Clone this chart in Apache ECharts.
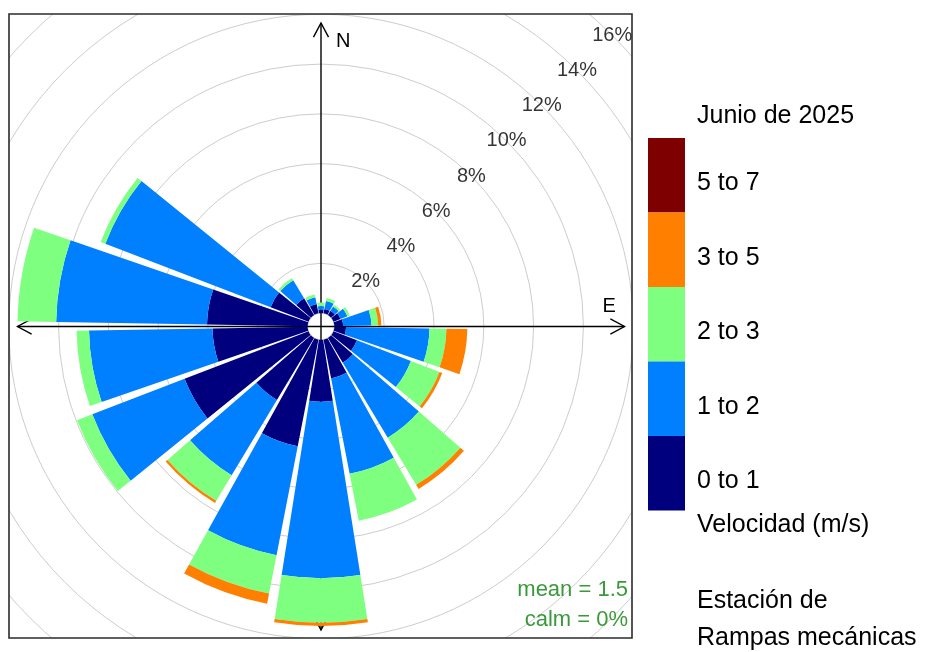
<!DOCTYPE html>
<html>
<head>
<meta charset="utf-8">
<script src="https://cdn.jsdelivr.net/npm/echarts@6/dist/echarts.min.js"></script>
<style>
html,body{margin:0;padding:0;background:#ffffff;}
#chart{width:929px;height:652px;}
</style>
</head>
<body>
<div id="chart"></div>
<script>
// ---------- data ----------
const directions = ['0','20','40','60','80','100','120','140','160','180','200','220','240','260','280','300','320','340'];
const speedBins = ['0 to 1','1 to 2','2 to 3','3 to 5','5 to 7'];
const binColors = ['#00007F','#007FFF','#7FFF7F','#FF7F00','#7F0000'];
const freq0to1 = [0.13,0.18,0.20,0.30,0.35,0.47,1.01,1.16,1.59,2.48,4.36,2.90,5.33,3.82,4.04,1.63,0.78,0.38];
const freq1to2 = [0.16,0.33,0.20,0.30,1.14,3.35,2.32,3.51,3.90,7.09,4.46,3.53,3.97,4.96,6.06,7.11,0.85,0.28];
const freq2to3 = [0.14,0.12,0.08,0.10,0.27,0.68,1.23,2.21,1.92,1.79,1.57,1.20,0.66,0.50,1.55,0.20,0.10,0.11];
const freq3to5 = [0,0,0,0,0.13,0.84,0.12,0.19,0,0.13,0.41,0.10,0,0,0,0,0,0];
const freq5to7 = [0,0,0,0,0,0,0,0,0,0,0,0,0,0,0,0,0,0];
const pctTicks = [2,4,6,8,10,12,14,16];
const titleText = 'Junio de 2025';
const unitText = 'Velocidad (m/s)';
const stationLines = ['Estación de','Rampas mecánicas'];
const meanSpeed = 1.5;
const calmPct = 0;

// ---------- layout ----------
const CENTER = [321, 326.5];
const RADIUS = [13.4, 411.8];
const BOX = {x: 9, y: 14, w: 623, h: 624};
const FONT = '"Liberation Sans", Arial, sans-serif';

const binSeries = [freq0to1, freq1to2, freq2to3, freq3to5, freq5to7];
const series = binSeries.map((arr, i) => ({
  name: speedBins[i],
  type: 'bar',
  coordinateSystem: 'polar',
  polarIndex: 0,
  stack: 'rose',
  barCategoryGap: '10%',
  itemStyle: {color: binColors[i]},
  data: arr,
  z: 2
}));
series.push({
  type: 'scatter',
  coordinateSystem: 'polar',
  polarIndex: 1,
  symbolSize: 0,
  silent: true,
  data: pctTicks.map(v => [v, 45]),
  label: {
    show: true, position: 'inside',
    formatter: p => p.value[0] + '%',
    fontSize: 20, color: '#000', fontFamily: FONT
  },
  z: 3
});

const hidden = {axisLine:{show:false}, axisTick:{show:false}, axisLabel:{show:false}, splitLine:{show:false}};

const chart = echarts.init(document.getElementById('chart'), null, {renderer: 'canvas'});
chart.setOption({
  animation: false,
  backgroundColor: '#ffffff',
  polar: [
    {center: CENTER, radius: RADIUS},
    {center: CENTER, radius: RADIUS}
  ],
  angleAxis: [
    Object.assign({polarIndex: 0, type: 'category', data: directions, startAngle: 100, clockwise: true, boundaryGap: true}, hidden, {splitArea:{show:false}}),
    Object.assign({polarIndex: 1, type: 'value', min: 0, max: 360, startAngle: 90, clockwise: true}, hidden)
  ],
  radiusAxis: [
    {polarIndex: 0, type: 'value', min: 0, max: 16, interval: 2,
     axisLine:{show:false}, axisTick:{show:false}, axisLabel:{show:false},
     splitLine:{show:true, showMinLine:false, lineStyle:{color:'#cdcdcd', width:1}}},
    Object.assign({polarIndex: 1, type: 'value', min: 0, max: 16, interval: 2}, hidden)
  ],
  legend: {
    orient: 'vertical', left: 648, top: 138, padding: 0,
    itemWidth: 37, itemHeight: 74.5, itemGap: 0,
    icon: 'rect', selectedMode: false,
    data: speedBins.slice().reverse(),
    formatter: name => '{t|' + name + '}',
    textStyle: {
      fontSize: 25, color: '#000', fontFamily: FONT, padding: [0, 0, 0, 7],
      rich: {t: {fontSize: 25, color: '#000', fontFamily: FONT, padding: [16, 0, 0, 0]}}
    },
    itemStyle: {borderWidth: 0},
    z: 60
  },
  series: series
});

// axis arrows through the centre, to the longest total frequency
const totals = directions.map((d, k) => binSeries.reduce((s, a) => s + a[k], 0));
const maxTotal = Math.max.apply(null, totals);
const scatterIdx = series.length - 1;
const tips = [0, 90, 180, 270].map(a => chart.convertToPixel({seriesIndex: scatterIdx}, [maxTotal, a]));
const c0 = [(tips[0][0] + tips[2][0]) / 2, (tips[1][1] + tips[3][1]) / 2];

function chevron(tip) {
  const dx = tip[0] - c0[0], dy = tip[1] - c0[1];
  const len = Math.sqrt(dx*dx + dy*dy);
  const ux = dx/len, uy = dy/len;
  const L = 16, ang = 28 * Math.PI/180;
  const rot = (s) => {
    const cs = Math.cos(s*ang), sn = Math.sin(s*ang);
    const rx = ux*cs - uy*sn, ry = ux*sn + uy*cs;
    return [tip[0] - L*rx, tip[1] - L*ry];
  };
  return {type:'polyline', z: 1, silent: true,
    shape:{points:[rot(1), tip, rot(-1)]},
    style:{stroke:'#000', lineWidth:1.4, fill:null}};
}

const graphics = [
  {type:'line', z:1, silent:true, shape:{x1:tips[3][0], y1:tips[3][1], x2:tips[1][0], y2:tips[1][1]}, style:{stroke:'#000', lineWidth:1.4}},
  {type:'line', z:1, silent:true, shape:{x1:tips[0][0], y1:tips[0][1], x2:tips[2][0], y2:tips[2][1]}, style:{stroke:'#000', lineWidth:1.4}},
  chevron(tips[0]), chevron(tips[1]), chevron(tips[2]), chevron(tips[3]),
  // masks outside the plot box
  {type:'rect', z:50, silent:true, shape:{x:0, y:0, width:BOX.x, height:652}, style:{fill:'#fff'}},
  {type:'rect', z:50, silent:true, shape:{x:0, y:0, width:929, height:BOX.y}, style:{fill:'#fff'}},
  {type:'rect', z:50, silent:true, shape:{x:0, y:BOX.y+BOX.h, width:929, height:652}, style:{fill:'#fff'}},
  {type:'rect', z:50, silent:true, shape:{x:BOX.x+BOX.w, y:0, width:929, height:652}, style:{fill:'#fff'}},
  {type:'rect', z:51, silent:true, shape:{x:BOX.x, y:BOX.y, width:BOX.w, height:BOX.h}, style:{fill:null, stroke:'#2b2b2b', lineWidth:1.6}},
  // compass letters
  {type:'text', z:52, silent:true, x: tips[0][0] + 15, y: tips[0][1] + 18,
   style:{text:'N', font:'20px ' + FONT, fill:'#000', textAlign:'left', textVerticalAlign:'middle'}},
  {type:'text', z:52, silent:true, x: tips[1][0] - 22, y: tips[1][1] - 20,
   style:{text:'E', font:'20px ' + FONT, fill:'#000', textAlign:'left', textVerticalAlign:'middle'}},
  // stats
  {type:'text', z:52, silent:true, x: 628, y: 590,
   style:{text:'mean = ' + meanSpeed, font:'22px ' + FONT, fill:'#3a9a3a', textAlign:'right', textVerticalAlign:'middle'}},
  {type:'text', z:52, silent:true, x: 628, y: 620,
   style:{text:'calm = ' + calmPct + '%', font:'22px ' + FONT, fill:'#3a9a3a', textAlign:'right', textVerticalAlign:'middle'}},
  // legend annotations
  {type:'text', z:61, silent:true, x: 697, y: 116,
   style:{text:titleText, font:'25px ' + FONT, fill:'#000', textAlign:'left', textVerticalAlign:'middle'}},
  {type:'text', z:61, silent:true, x: 697, y: 525,
   style:{text:unitText, font:'25px ' + FONT, fill:'#000', textAlign:'left', textVerticalAlign:'middle'}},
  {type:'text', z:61, silent:true, x: 697, y: 601,
   style:{text:stationLines[0], font:'25px ' + FONT, fill:'#000', textAlign:'left', textVerticalAlign:'middle'}},
  {type:'text', z:61, silent:true, x: 697, y: 638,
   style:{text:stationLines[1], font:'25px ' + FONT, fill:'#000', textAlign:'left', textVerticalAlign:'middle'}}
];
chart.setOption({graphic: graphics});
</script>
</body>
</html>
